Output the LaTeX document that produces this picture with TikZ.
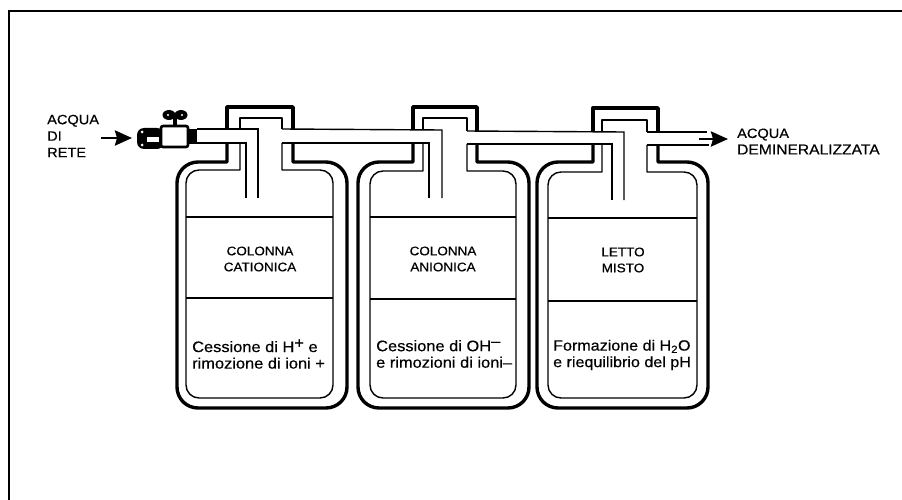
\documentclass[tikz,border=0pt]{standalone}
\usepackage{fontspec}
\setmainfont{Liberation Sans}[FakeBold=0.4, FakeStretch=1.08]
\usetikzlibrary{arrows.meta}

\begin{document}
\begin{tikzpicture}[x=1pt, y=-1pt]
  % Define styles
  \tikzstyle{wall} = [line width=3.4pt, line join=round]
  \tikzstyle{liner} = [line width=1.4pt, line join=round]
  \tikzstyle{pipe} = [line width=1.4pt]
  \tikzstyle{flow} = [line width=2.8pt, -{Stealth[length=17pt, width=15pt, inset=2pt]}]
  \tikzstyle{outside} = [inner sep=0pt, align=left, anchor=west, font=\fontsize{13.5}{16.5}\selectfont]
  \tikzstyle{resin} = [inner sep=0pt, align=center, font=\fontsize{12.5}{16}\selectfont]
  \tikzstyle{effect} = [inner sep=0pt, align=left, anchor=west, font=\fontsize{15.2}{16.5}\selectfont]

  \useasboundingbox (0,0) rectangle (902,500);

  % Frame
  \draw[line width=1.3pt] (9,500) -- (9,11) -- (902,11);

  % First column
  \draw[wall] (293,143) -- (293,162) [rounded corners=21pt] -- (347,162) -- (347,408) -- (177,408) -- (177,162) [sharp corners] -- (227,162) -- (227,143);
  \draw[liner] (282,143) -- (282,170) [rounded corners=13pt] -- (333,170) -- (333,398) -- (186,398) -- (186,170) [sharp corners] -- (240,170) -- (240,143);
  \draw[wall] (227,129) -- (227,107) -- (293,107) -- (293,129);
  \draw[liner] (240,129) -- (240,118) -- (282,118) -- (282,129);
  \draw[liner] (186,217) -- (333,217);
  \draw[liner] (186,298) -- (333,298);

  % Second column
  \draw[wall] (477,144) -- (477,162) [rounded corners=21pt] -- (529,162) -- (529,408) -- (358,408) -- (358,162) [sharp corners] -- (413,162) -- (413,143);
  \draw[liner] (467,144) -- (467,171) [rounded corners=13pt] -- (516,171) -- (516,398) -- (370,398) -- (370,171) [sharp corners] -- (423,171) -- (423,143);
  \draw[wall] (413,130) -- (413,107) -- (477,107) -- (477,131);
  \draw[liner] (423,130) -- (423,118) -- (467,118) -- (467,131);
  \draw[liner] (370,217) -- (516,217);
  \draw[liner] (370,299) -- (516,299);

  % Third column
  \draw[wall] (658,145) -- (658,162) [rounded corners=21pt] -- (708,162) -- (708,408) -- (537,408) -- (537,162) [sharp corners] -- (593,162) -- (593,144);
  \draw[liner] (647,145) -- (647,172) [rounded corners=13pt] -- (697,172) -- (697,398) -- (548,398) -- (548,172) [sharp corners] -- (602,172) -- (602,144);
  \draw[wall] (593,131) -- (593,108) -- (658,108) -- (658,132);
  \draw[liner] (602,131) -- (602,120) -- (647,120) -- (647,132);
  \draw[liner] (548,218) -- (697,218);
  \draw[liner] (548,301) -- (697,301);

  % Pipes between the columns
  \draw[pipe] (197,129) -- (258,129) -- (258,198);
  \draw[pipe] (197,143) -- (246,143) -- (246,198);
  \draw[pipe] (282,129) -- (442,130) -- (442,198);
  \draw[pipe] (282,143) -- (429,143) -- (429,198);
  \draw[pipe] (467,131) -- (624,132) -- (624,200);
  \draw[pipe] (467,144) -- (612,144) -- (612,200);
  \draw[pipe] (647,132) -- (707,132);
  \draw[pipe] (647,145) -- (709,145);

  % Tap
  \fill[rounded corners=7pt] (137,128) rectangle (164,149);
  \fill[white] (147,137) rectangle (159,142);
  \fill[white] (142,132) circle [radius=1.5];
  \fill[white] (142,145) circle [radius=1.5];
  \fill (188,129) rectangle (197,144);
  \draw[line width=2.6pt, fill=white, rounded corners=2pt] (161,126) rectangle (188,147);
  \draw[line width=3.4pt] (175,126) -- (175,116);
  \fill (169,115) ellipse [x radius=6.5, y radius=5];
  \fill (181,115) ellipse [x radius=6.5, y radius=5];
  \fill[white] (168,115) circle [radius=1.2];
  \fill[white] (182,115) circle [radius=1.2];

  % Labels
  \node[outside] (rete) at (47,136) {ACQUA\\DI\\RETE};
  \node[outside] (demi) at (737,141.5) {ACQUA\\\fontsize{14.45}{16.5}\selectfont DEMINERALIZZATA};

  \node[resin] (cationica) at (260,259) {COLONNA\\CATIONICA};
  \node[resin] (anionica) at (443,259) {COLONNA\\ANIONICA};
  \node[resin] (misto) at (623,260) {LETTO\\MISTO};

  \node[effect] (cessioneh) at (192,354) {Cessione di H\raisebox{4pt}{+} e\\rimozione di ioni +};
  \node[effect] (cessioneoh) at (376,354) {Cessione di OH\raisebox{5pt}{--}\\e rimozioni di ioni--};
  \node[effect, font=\fontsize{14.9}{16.5}\selectfont] (formazione) at (553,355) {Formazione di H\textsubscript{2}O\\e riequilibrio del pH};

  % Flow arrows
  \coordinate (reteout) at (101,138);
  \coordinate (tapin) at (132,138);
  \coordinate (pipeend) at (699,139);
  \coordinate (demiin) at (728,139);
  \draw[flow] (reteout) -- (tapin);
  \draw[flow] (pipeend) -- (demiin);

\end{tikzpicture}
\end{document}
